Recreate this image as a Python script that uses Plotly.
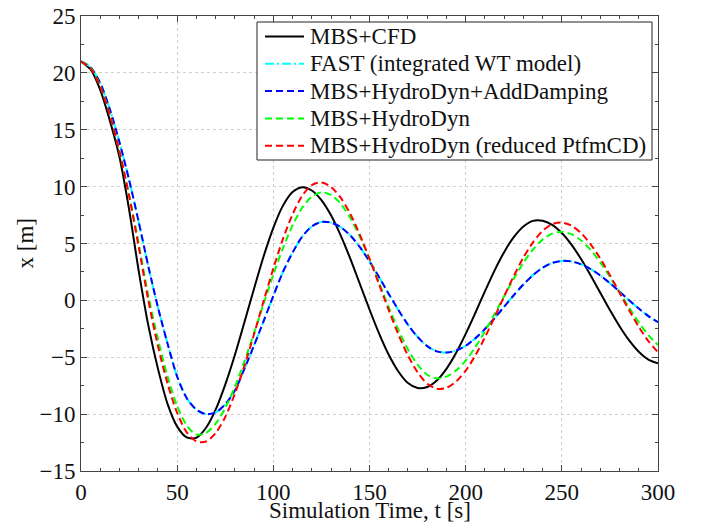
import plotly.graph_objects as go

time_s = [0, 5, 10, 15, 20, 25, 30, 35, 40, 45, 50, 55, 60, 65, 70, 75, 80, 85, 90, 95,
          100, 105, 110, 115, 120, 125, 130, 135, 140, 145, 150, 155, 160, 165, 170, 175,
          180, 185, 190, 195, 200, 205, 210, 215, 220, 225, 230, 235, 240, 245, 250, 255,
          260, 265, 270, 275, 280, 285, 290, 295, 300]

mbs_cfd = [21.0, 20.3, 18.5, 15.8, 12.6, 8.0, 2.6, -2.2, -6.0, -9.1, -11.1, -12.05, -12.08,
           -11.2, -9.6, -7.4, -4.8, -1.9, 1.05, 3.9, 6.38, 8.33, 9.53, 9.95, 9.66, 8.82, 7.48,
           5.72, 3.67, 1.44, -0.80, -2.92, -4.78, -6.25, -7.27, -7.71, -7.62, -7.04, -6.02,
           -4.63, -2.95, -1.11, 0.79, 2.62, 4.24, 5.56, 6.50, 6.99, 7.00, 6.63, 5.92, 4.90,
           3.63, 2.19, 0.67, -0.85, -2.27, -3.52, -4.51, -5.20, -5.53]

fast = [21.0, 20.5, 19.1, 16.8, 13.9, 10.6, 6.9, 3.0, -0.6, -3.8, -6.7, -8.6, -9.6, -10.0,
        -9.85, -9.14, -7.92, -6.0, -3.95, -1.8, 0.4, 2.5, 4.2, 5.6, 6.5, 6.9, 6.84, 6.44, 5.71,
        4.68, 3.43, 2.03, 0.57, -0.84, -2.14, -3.21, -4.02, -4.48, -4.59, -4.41, -3.99, -3.34,
        -2.52, -1.57, -0.56, 0.45, 1.40, 2.22, 2.87, 3.29, 3.47, 3.42, 3.17, 2.75, 2.19, 1.51,
        0.77, 0.01, -0.72, -1.38, -1.92]

hydro_adddamp = [21.0, 20.5, 19.1, 16.8, 13.9, 10.6, 6.9, 3.0, -0.6, -3.8, -6.7, -8.6, -9.6,
                 -10.0, -9.85, -9.14, -7.92, -6.0, -3.95, -1.8, 0.4, 2.5, 4.2, 5.6, 6.5, 6.9,
                 6.84, 6.44, 5.71, 4.68, 3.43, 2.03, 0.57, -0.84, -2.14, -3.21, -4.02, -4.48,
                 -4.59, -4.41, -3.99, -3.34, -2.52, -1.57, -0.56, 0.45, 1.40, 2.22, 2.87, 3.29,
                 3.47, 3.42, 3.17, 2.75, 2.19, 1.51, 0.77, 0.01, -0.72, -1.38, -1.92]

hydro = [21.0, 20.45, 18.85, 16.35, 13.1, 9.3, 5.0, 0.4, -3.4, -6.7, -9.3, -11.0, -11.8,
         -11.65, -10.84, -9.46, -7.60, -5.35, -2.86, -0.27, 2.27, 4.60, 6.59, 8.14, 9.12, 9.50,
         9.27, 8.51, 7.25, 5.59, 3.64, 1.53, -0.59, -2.58, -4.31, -5.65, -6.54, -6.86, -6.70,
         -6.17, -5.30, -4.12, -2.73, -1.20, 0.37, 1.90, 3.30, 4.47, 5.34, 5.87, 6.03, 5.82,
         5.27, 4.43, 3.34, 2.07, 0.71, -0.65, -1.94, -3.06, -3.92]

hydro_reduced = [21.0, 20.4, 18.8, 16.3, 13.1, 9.2, 4.7, 0.0, -4.0, -7.3, -9.9, -11.6, -12.4,
                 -12.41, -11.67, -10.25, -8.22, -5.75, -2.95, -0.04, 2.81, 5.40, 7.56, 9.19,
                 10.14, 10.37, 9.97, 9.03, 7.60, 5.76, 3.66, 1.40, -0.86, -2.99, -4.85, -6.32,
                 -7.33, -7.77, -7.69, -7.14, -6.18, -4.85, -3.26, -1.48, 0.35, 2.14, 3.76, 5.10,
                 6.12, 6.70, 6.84, 6.57, 5.92, 4.93, 3.67, 2.22, 0.68, -0.87, -2.32, -3.58, -4.56]

names = ["MBS+CFD", "FAST (integrated WT model)", "MBS+HydroDyn+AddDamping",
         "MBS+HydroDyn", "MBS+HydroDyn (reduced PtfmCD)"]

x_ticks = [0, 50, 100, 150, 200, 250, 300]
y_ticks = [-15, -10, -5, 0, 5, 10, 15, 20, 25]

x_title = "Simulation Time, t [s]"
y_title = "x [m]"

series = [mbs_cfd, fast, hydro_adddamp, hydro, hydro_reduced]
colors = ["#000000", "#00ffff", "#0000ff", "#00ff00", "#ff0000"]
dashes = ["solid", "9px,3px,2px,3px", "7px,4px", "7px,4px", "7px,4px"]

FONT = "Liberation Serif"
FS = 23
TXT = "#111111"
AX = "#444444"

# the page body has an 8px default margin: the figure is offset by it
OFF = 8
FIG_W, FIG_H = 701 - OFF, 522 - OFF

fig = go.Figure()
for name, ys, col, dsh in zip(names, series, colors, dashes):
    fig.add_trace(go.Scatter(
        x=time_s, y=ys, mode="lines", name=name, showlegend=False,
        line=dict(color=col, width=2, dash=dsh, shape="spline", smoothing=0.8),
    ))

axis_common = dict(
    showline=True, linecolor=AX, linewidth=1, mirror="allticks",
    ticks="inside", ticklen=6, tickcolor=AX, tickwidth=1,
    showgrid=True, gridcolor="#cfcfcf", griddash="dot", gridwidth=1,
    zeroline=False, automargin=False, ticklabeloverflow="allow",
    tickfont=dict(family=FONT, size=FS, color=TXT),
)

fig.update_xaxes(
    range=[0, 300], tickvals=x_ticks,
    minor=dict(dtick=10, ticks="inside", ticklen=3, tickcolor=AX, showgrid=False),
    **axis_common,
)
fig.update_yaxes(
    range=[-15, 25], tickvals=y_ticks,
    minor=dict(dtick=2.5, ticks="inside", ticklen=3, tickcolor=AX, showgrid=False),
    **axis_common,
)

# plot-area geometry in page pixels
L, R, T, B = 81, 658, 16, 471
W, H = R - L, B - T


def px_x(p):
    return (p - L) / W


def px_y(p):
    return (B - p) / H


annotations = [
    dict(text=x_title, x=0.5, y=px_y(511), xref="paper", yref="paper",
         xanchor="center", yanchor="middle", showarrow=False,
         font=dict(family=FONT, size=FS, color=TXT)),
    dict(text=y_title, x=px_x(25), y=0.5, xref="paper", yref="paper",
         xanchor="center", yanchor="middle", textangle=-90, showarrow=False,
         font=dict(family=FONT, size=FS, color=TXT)),
]

shapes = [
    dict(type="rect", xref="paper", yref="paper",
         x0=px_x(257), x1=px_x(652), y0=px_y(160), y1=px_y(22),
         line=dict(color="#222222", width=1), fillcolor="white", layer="above"),
]

row0, row_step = 36.5, 27.3
for i, (name, col, dsh) in enumerate(zip(names, colors, dashes)):
    yy = px_y(row0 + i * row_step)
    shapes.append(dict(type="line", xref="paper", yref="paper",
                       x0=px_x(265), x1=px_x(304), y0=yy, y1=yy,
                       line=dict(color=col, width=2, dash=dsh), layer="above"))
    annotations.append(dict(text=name, x=px_x(308), y=yy, xref="paper", yref="paper",
                            xanchor="left", yanchor="middle", showarrow=False,
                            font=dict(family=FONT, size=FS, color=TXT)))

fig.update_layout(
    width=FIG_W, height=FIG_H,
    margin=dict(l=L - OFF, r=FIG_W - (R - OFF), t=T - OFF, b=FIG_H - (B - OFF)),
    paper_bgcolor="white", plot_bgcolor="white",
    font=dict(family=FONT, size=FS, color=TXT),
    showlegend=False,
    shapes=shapes,
    annotations=annotations,
)

fig.write_html("out.html")
